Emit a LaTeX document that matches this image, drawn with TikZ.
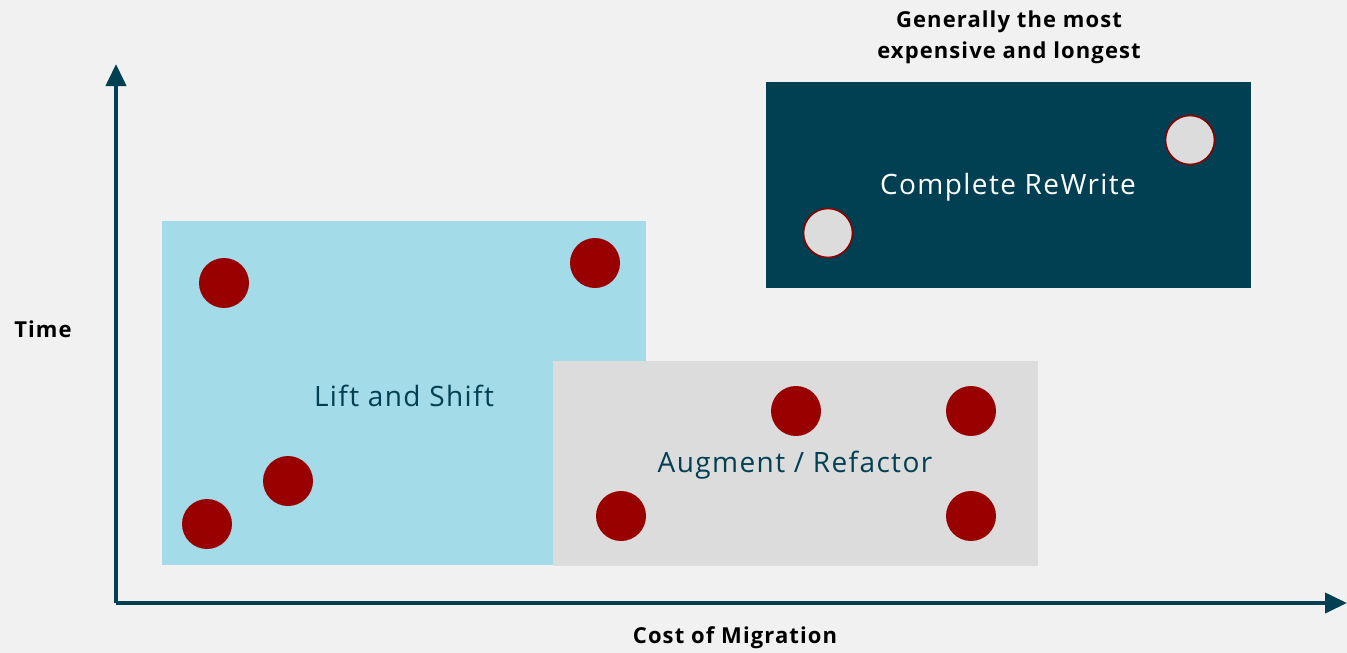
\documentclass[tikz,border=0pt]{standalone}
\usepackage{fontspec}
\setmainfont{Open Sans}
\newfontfamily\widefont[LetterSpace=5]{Open Sans}
\usepackage{tikz}
\usetikzlibrary{positioning}
\usetikzlibrary{arrows.meta}
\usepackage{xcolor}

\definecolor{bgcol}{HTML}{F1F1F1}
\definecolor{tealdark}{HTML}{004052}
\definecolor{liftblue}{HTML}{A4DBE8}
\definecolor{augrey}{HTML}{DCDCDC}
\definecolor{dotred}{HTML}{990000}

\tikzset{
  reddot/.style={circle, fill=dotred, minimum size=50pt, inner sep=0pt},
  greydot/.style={circle, fill=augrey, draw=dotred!90!black, line width=1.6pt, minimum size=49pt, inner sep=0pt},
  boxlabel/.style={font=\widefont\fontsize{28}{32}\selectfont},
  axislabel/.style={font=\widefont\bfseries\fontsize{22}{31}\selectfont, align=center},
  axisline/.style={tealdark, line width=4pt, -{Triangle[length=22pt,width=20pt]}}
}

\begin{document}
\begin{tikzpicture}[x=1pt,y=-1pt]

\useasboundingbox (0,0) rectangle (1347,653);
\fill[bgcol] (0,0) rectangle (1347,653);

% boxes
\fill[liftblue] (162,221) rectangle (646,565);
\fill[augrey] (553,361) rectangle (1038,566);
\fill[tealdark] (766,82) rectangle (1251,288);

\node[boxlabel, text=tealdark] (lift) at (404,396) {Lift and Shift};
\node[boxlabel, text=tealdark] (augment) at (795,465) {Augment / Refactor};
\node[boxlabel, text=white] (rewrite) at (1008,187) {Complete ReWrite};

% dots
\node[reddot] (l1) at (224,283) {};
\node[reddot] (l2) at (595,263) {};
\node[reddot] (l3) at (288,481) {};
\node[reddot] (l4) at (207,524) {};
\node[reddot] (a1) at (796,411) {};
\node[reddot] (a2) at (971,411) {};
\node[reddot] (a3) at (621,516) {};
\node[reddot] (a4) at (971,516) {};
\node[greydot] (r1) at (1190,140) {};
\node[greydot] (r2) at (828,233) {};

% axes
\coordinate (origin) at (116,603);
\coordinate (ytip) at (116,64);
\coordinate (xtip) at (1347,603);
\draw[axisline] (origin) -- (ytip);
\draw[axisline] (origin) -- (xtip);

\node[axislabel] (time) at (43,329) {Time};
\node[axislabel] (cost) at (735,638) {Cost of Migration};
\node[axislabel] (note) at (1009,37) {Generally the most\\expensive and longest};

\end{tikzpicture}
\end{document}
